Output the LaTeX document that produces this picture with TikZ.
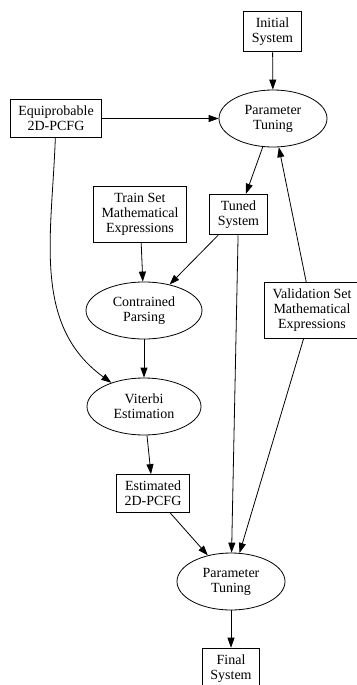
\documentclass[tikz,border=0pt]{standalone}
\usepackage{fontspec}
\setmainfont{Liberation Serif}
\usetikzlibrary{arrows.meta,shapes.geometric}

\begin{document}
\begin{tikzpicture}[x=1pt,y=-1pt,->,>={Triangle[length=10pt,width=7pt]},
                line width=0.8pt,font=\fontsize{14}{15}\selectfont,
                box node/.style={rectangle,draw,align=center,inner xsep=8pt,inner ysep=6.5pt},
                oval node/.style={ellipse,draw,align=center,inner sep=0pt,minimum height=57pt}]

            \useasboundingbox (0,0) rectangle (356,685);

            \node[box node] (IS) at (272.5,31.5) {Initial\\System};
            \node[box node] (EP) at (56,118.5) {Equiprobable\\2D-PCFG};
            \node[oval node, minimum width=108pt] (PT1) at (273,118.5) {Parameter\\Tuning};
            \node[box node] (TS) at (140,214.5) {Train Set\\Mathematical\\Expressions};
            \node[box node] (TU) at (238.5,214.5) {Tuned\\System};
            \node[oval node, minimum width=116pt] (CP) at (144,310.5) {Contrained\\Parsing};
            \node[box node] (VS) at (312,310.5) {Validation Set\\Mathematical\\Expressions};
            \node[oval node, minimum width=114pt] (VE) at (144,406.5) {Viterbi\\Estimation};
            \node[box node] (EST) at (153,493.5) {Estimated\\2D-PCFG};
            \node[oval node, minimum width=108pt] (PT2) at (231,581.5) {Parameter\\Tuning};
            \node[box node] (FS) at (231,668.5) {Final\\System};

            \path
            (IS) edge (PT1)
            (EP) edge (PT1)
            (EP) edge [out=-92,in=144] (VE)
            (PT1) edge (TU)
            (VS) edge (PT1)
            (TS) edge (CP)
            (TU) edge (CP)
            (CP) edge (VE)
            (VE) edge (EST)
            (EST) edge (PT2)
            (TU) edge (PT2)
            (VS) edge (PT2)
            (PT2) edge (FS);

        \end{tikzpicture}
\end{document}
